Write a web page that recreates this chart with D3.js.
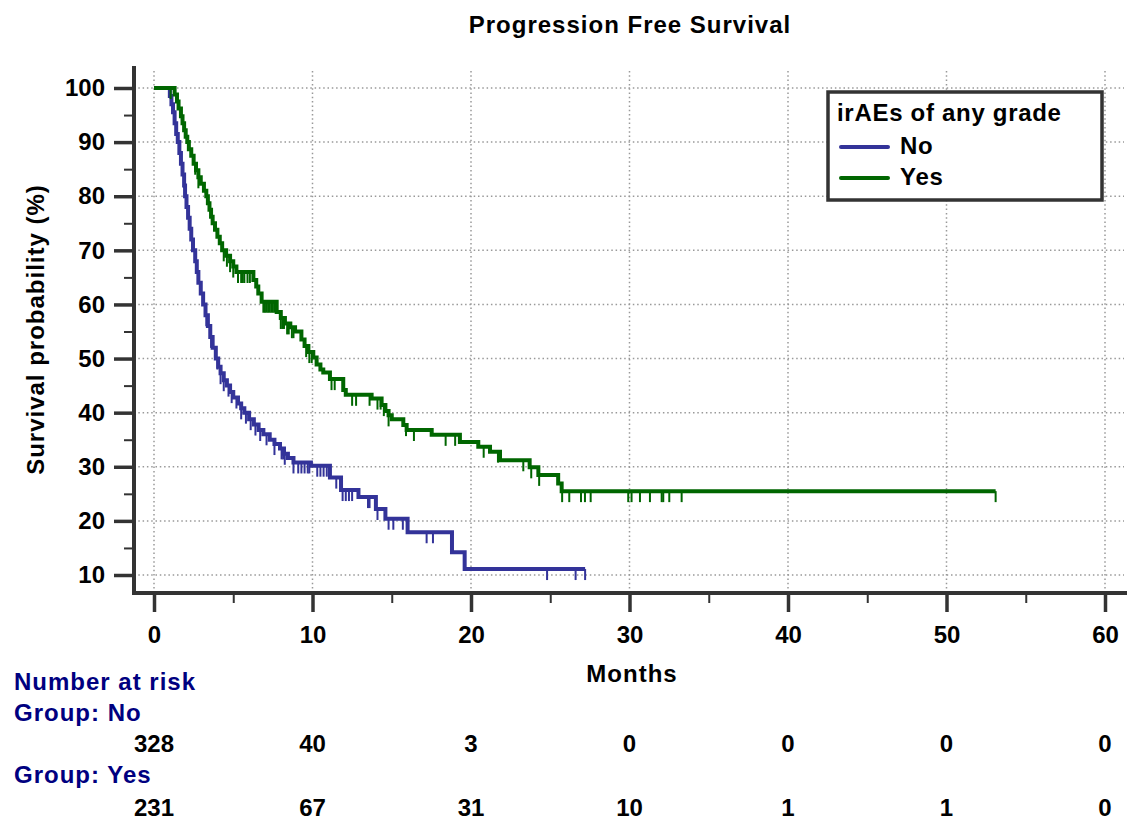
<!DOCTYPE html>
<html>
<head>
<meta charset="utf-8">
<script src="https://cdn.jsdelivr.net/npm/d3@7"></script>
<style>
  body { margin: 0; background: #fff; }
  text { font-family: "Liberation Sans", Arial, sans-serif; font-weight: bold; }
</style>
</head>
<body>
<div id="chart"></div>
<script>
// Kaplan-Meier steps: [month, survival %]
const noSteps = [
  [0,100],[1.0,98.5],[1.1,97],[1.2,95.5],[1.3,93.5],[1.4,91.5],[1.5,90],[1.6,88],[1.7,86],[1.8,84],
  [1.9,82],[1.96,80],[2.05,78],[2.15,76],[2.25,74],[2.35,72],[2.46,70],[2.6,68],[2.7,66],[2.8,64],
  [2.95,62],[3.1,60],[3.25,58],[3.4,56],[3.55,54],[3.7,52],[3.9,50],[4.05,48.5],[4.2,47.3],[4.4,46],
  [4.6,45],[4.8,43.8],[5.0,42.8],[5.3,41.7],[5.5,40.8],[5.7,40],[6.0,38.8],[6.3,37.8],[6.6,36.8],
  [6.9,36],[7.3,35],[7.6,34.2],[7.95,33.4],[8.2,32.4],[8.45,31.6],[8.8,30.8],[9.9,30.2],[11.1,28],
  [11.8,25.7],[12.9,24.4],[14.0,22.2],[14.6,20.4],[16.0,17.9],[18.8,14.2],[19.6,11.1]
];
const noEnd = 27.2;
const noCensor = [3.3,3.6,4.0,4.2,4.4,4.7,4.9,5.2,5.5,5.8,6.1,6.4,6.7,7.1,7.6,8.05,8.15,8.25,8.8,9.1,
  9.3,9.5,9.7,9.8,10.3,10.5,10.7,10.9,11.5,11.9,12.1,12.3,12.5,13.5,13.6,14.1,14.8,15.1,15.7,17.2,17.6,
  24.8,26.6,27.2];

const yesSteps = [
  [0,100],[1.3,98.8],[1.45,97.5],[1.55,96.2],[1.7,94.8],[1.8,93.5],[1.9,92.2],[2.0,91],[2.1,90],
  [2.2,88.7],[2.35,87.5],[2.5,86],[2.65,84.8],[2.8,83.5],[2.95,82.3],[3.15,81],[3.3,80],[3.4,78.7],
  [3.5,77.5],[3.6,76.2],[3.7,75],[3.85,73.8],[4.0,72.5],[4.15,71.3],[4.3,70],[4.55,69],[4.8,68],
  [5.0,67],[5.2,66],[6.27,64.5],[6.45,63.3],[6.58,62],[6.79,60.5],[7.74,58.6],[8.0,57.5],[8.26,56.5],
  [8.6,55.8],[8.9,55],[9.3,53.5],[9.5,52.3],[9.74,51.2],[10.05,50.2],[10.26,48.9],[10.5,48],
  [10.68,47.4],[11.1,46.2],[11.94,44.2],[12.1,43.3],[13.73,42.6],[14.36,41.4],[14.6,40.3],[14.8,39.5],
  [15.0,38.8],[15.73,37.7],[15.94,36.8],[17.52,35.9],[19.3,34.6],[20.46,33.7],[21.2,32.8],[21.83,31.2],
  [23.7,29.9],[24.25,28.5],[25.5,26.9],[25.72,25.5]
];
const yesEnd = 53.1;
const yesCensor = [1.05,2.6,2.8,4.4,4.6,4.8,5.0,5.3,5.5,5.6,5.7,5.9,6.05,6.9,7.0,7.1,7.2,7.3,7.4,7.5,
  7.6,8.0,8.1,8.2,8.4,8.5,8.7,8.8,9.6,9.8,9.95,11.2,11.4,12.5,12.75,13.6,14.1,14.3,14.5,14.8,15.9,16.4,
  18.4,19.0,20.8,21.7,23.3,23.8,24.3,25.75,26.2,26.94,27.19,27.55,29.92,30.13,30.66,31.29,32.03,32.13,
  32.51,33.29,53.1];

const xTicks = [0,10,20,30,40,50,60];
const xMinor = [5,15,25,35,45,55];
const yTicks = [10,20,30,40,50,60,70,80,90,100];
const yMinor = [15,25,35,45,55,65,75,85,95];

const riskTimes = [0,10,20,30,40,50,60];
const riskNo = [328,40,3,0,0,0,0];
const riskYes = [231,67,31,10,1,1,0];

const groups = [
  { name: 'No', steps: noSteps, end: noEnd, censor: noCensor, color: '#333399' },
  { name: 'Yes', steps: yesSteps, end: yesEnd, censor: yesCensor, color: '#006600' }
];

// layout
const W = 1127, H = 823;
const plotLeft = 134, plotRight = 1124, plotTop = 66, plotBottom = 593;
const axisColor = '#333';
const navy = '#000080';

const svg = d3.select('#chart').append('svg').attr('width', W).attr('height', H);

const x = d3.scaleLinear().domain([0, 60]).range([154, 1105]);
const y = d3.scaleLinear().domain([10, 100]).range([575, 88]);

// grid
const grid = svg.append('g').attr('stroke', '#999').attr('stroke-width', 1.5).attr('stroke-dasharray', '1.5,2.8');
grid.selectAll('line.h').data(yTicks).enter().append('line')
  .attr('x1', plotLeft).attr('x2', plotRight)
  .attr('y1', d => y(d)).attr('y2', d => y(d));
grid.selectAll('line.v').data(xTicks).enter().append('line')
  .attr('x1', d => x(d)).attr('x2', d => x(d))
  .attr('y1', 71).attr('y2', plotBottom);

// title
svg.append('text').attr('x', 630).attr('y', 33).attr('text-anchor', 'middle')
  .style('font-size', '24px').style('letter-spacing', '1px').text('Progression Free Survival');

// y axis
const yAxisG = svg.append('g').attr('transform', `translate(${plotLeft},0)`);
yAxisG.call(d3.axisLeft(y).tickValues(yTicks).tickSize(20).tickPadding(9));
yAxisG.select('.domain').remove();
yAxisG.selectAll('.tick line').attr('stroke', axisColor).attr('stroke-width', 3.5);
yAxisG.selectAll('.tick text').attr('fill', '#000').style('font-size', '24px')
  .style('font-family', '"Liberation Sans", Arial, sans-serif').style('font-weight', 'bold');
const yMinorG = svg.append('g').attr('transform', `translate(${plotLeft},0)`);
yMinorG.call(d3.axisLeft(y).tickValues(yMinor).tickSize(10).tickFormat(''));
yMinorG.select('.domain').remove();
yMinorG.selectAll('.tick line').attr('stroke', axisColor).attr('stroke-width', 2);
svg.append('line').attr('x1', plotLeft).attr('x2', plotLeft).attr('y1', plotTop).attr('y2', plotBottom + 2)
  .attr('stroke', axisColor).attr('stroke-width', 4);

// x axis
const xAxisG = svg.append('g').attr('transform', `translate(0,${plotBottom})`);
xAxisG.call(d3.axisBottom(x).tickValues(xTicks).tickSize(19).tickPadding(14));
xAxisG.select('.domain').remove();
xAxisG.selectAll('.tick line').attr('stroke', axisColor).attr('stroke-width', 3.5);
xAxisG.selectAll('.tick text').attr('fill', '#000').style('font-size', '24px')
  .style('font-family', '"Liberation Sans", Arial, sans-serif').style('font-weight', 'bold');
const xMinorG = svg.append('g').attr('transform', `translate(0,${plotBottom})`);
xMinorG.call(d3.axisBottom(x).tickValues(xMinor).tickSize(10).tickFormat(''));
xMinorG.select('.domain').remove();
xMinorG.selectAll('.tick line').attr('stroke', axisColor).attr('stroke-width', 2);
svg.append('line').attr('x1', plotLeft - 2).attr('x2', plotRight + 3).attr('y1', plotBottom).attr('y2', plotBottom)
  .attr('stroke', axisColor).attr('stroke-width', 4);

// axis titles
svg.append('text').attr('x', 632).attr('y', 682).attr('text-anchor', 'middle')
  .style('font-size', '24px').style('letter-spacing', '1px').text('Months');
svg.append('text').attr('transform', `translate(44,${(plotTop + plotBottom) / 2}) rotate(-90)`)
  .attr('text-anchor', 'middle').style('font-size', '24px').style('letter-spacing', '1px')
  .text('Survival probability (%)');

// curves
const survAt = (steps, t) => {
  let s = steps[0][1];
  for (const [tt, v] of steps) if (tt <= t) s = v;
  return s;
};
const line = d3.line().curve(d3.curveStepAfter).x(d => x(d[0])).y(d => y(d[1]));

groups.forEach(g => {
  const pts = g.steps.concat([[g.end, g.steps[g.steps.length - 1][1]]]);
  svg.append('g').selectAll('line').data(g.censor).enter().append('line')
    .attr('x1', d => x(d)).attr('x2', d => x(d))
    .attr('y1', d => y(survAt(g.steps, d))).attr('y2', d => y(survAt(g.steps, d)) + 11)
    .attr('stroke', g.color).attr('stroke-width', 2);
  svg.append('path').datum(pts).attr('d', line)
    .attr('fill', 'none').attr('stroke', g.color).attr('stroke-width', 4);
});

// legend
const lg = svg.append('g');
lg.append('rect').attr('x', 828).attr('y', 92).attr('width', 274).attr('height', 108)
  .attr('fill', '#fff').attr('stroke', axisColor).attr('stroke-width', 3.5);
lg.append('text').attr('x', 837).attr('y', 121).style('font-size', '24px').style('letter-spacing', '0.7px')
  .text('irAEs of any grade');
const items = lg.selectAll('g.item').data(groups).enter().append('g').attr('class', 'item')
  .attr('transform', (d, i) => `translate(0,${147 + i * 31})`);
items.append('line').attr('x1', 841).attr('x2', 888).attr('y1', 0).attr('y2', 0)
  .attr('stroke', d => d.color).attr('stroke-width', 4).attr('stroke-linecap', 'round');
items.append('text').attr('x', 900).attr('y', 7).style('font-size', '24px').style('letter-spacing', '0.7px')
  .text(d => d.name);

// number at risk
const risk = svg.append('g');
risk.append('text').attr('x', 14).attr('y', 690).attr('fill', navy).style('font-size', '24px')
  .style('letter-spacing', '1px').text('Number at risk');
const rows = [{ label: 'Group: No', vals: riskNo }, { label: 'Group: Yes', vals: riskYes }];
rows.forEach((r, i) => {
  risk.append('text').attr('x', 14).attr('y', 721 + i * 62).attr('fill', navy)
    .style('font-size', '24px').style('letter-spacing', '1px').text(r.label);
  risk.append('g').selectAll('text').data(r.vals).enter().append('text')
    .attr('x', (d, j) => x(riskTimes[j])).attr('y', 752 + i * 64)
    .attr('text-anchor', 'middle').style('font-size', '24px').text(d => d);
});
</script>
</body>
</html>
